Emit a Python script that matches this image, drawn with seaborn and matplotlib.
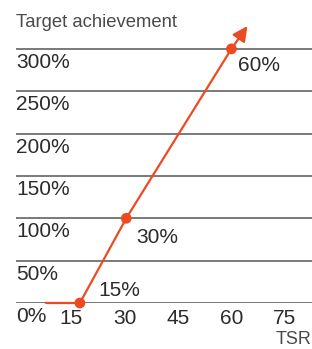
import matplotlib
matplotlib.use('Agg')
import matplotlib.pyplot as plt
import seaborn as sns
import pandas as pd

# Data
line_x = [8, 17.5, 30.5, 60]
line_y = [0, 0, 100, 300]
point_x = [17.5, 30.5, 60]
point_y = [0, 100, 300]
point_labels = ['15%', '30%', '60%']
arrow_tip = (64.5, 327)
y_ticks = [0, 50, 100, 150, 200, 250, 300]
y_tick_labels = ['0%', '50%', '100%', '150%', '200%', '250%', '300%']
x_ticks = [15, 30, 45, 60, 75]
x_tick_labels = ['15', '30', '45', '60', '75']

sns.set_style('white')
plt.rcParams['font.family'] = ['Liberation Sans', 'DejaVu Sans']

orange = '#EE4A22'
text_col = '#2b2b2b'
grey = '#555555'

fig = plt.figure(figsize=(3.12, 3.49), dpi=100)
ax = fig.add_axes([16 / 312, 1 - 303 / 349, 1 - 16 / 312, (303 - 15) / 349])

line_df = pd.DataFrame({'x': line_x, 'y': line_y})
pts_df = pd.DataFrame({'x': point_x, 'y': point_y})

# gridlines
for v in y_ticks:
    ax.axhline(v, color=grey, lw=1.1, zorder=1)

sns.lineplot(data=line_df, x='x', y='y', color=orange, lw=1.6, ax=ax,
             sort=False, zorder=3, clip_on=False)
sns.scatterplot(data=pts_df, x='x', y='y', color=orange, s=60, ax=ax,
                zorder=4, edgecolor='none', clip_on=False)
ax.annotate('', xy=arrow_tip, xytext=(point_x[-1], point_y[-1]),
            arrowprops=dict(arrowstyle='-|>,head_length=0.9,head_width=0.45',
                            color=orange, lw=1.6, shrinkA=0, shrinkB=0),
            zorder=3, annotation_clip=False)

# point labels
offsets = [(13, 2, 'bottom'), (7, -7, 'top'), (5, -5, 'top')]
for x, y, lab, (dx, dy, va) in zip(point_x, point_y, point_labels, offsets):
    ax.annotate(lab, xy=(x, y), xytext=(dx, dy), textcoords='offset points',
                ha='left', va=va, fontsize=15, color=text_col)

# y tick labels inside the axes, below each gridline
for v, lab in zip(y_ticks, y_tick_labels):
    ax.annotate(lab, xy=(0, v), xycoords=('axes fraction', 'data'),
                xytext=(0, -3), textcoords='offset points',
                ha='left', va='top', fontsize=15, color=text_col)

ax.set_xlim(-0.42, 82.6)
ax.set_ylim(0, 340)
ax.set_yticks([])
ax.set_xticks(x_ticks)
ax.set_xticklabels(x_tick_labels, fontsize=15, color=text_col)
ax.tick_params(axis='x', length=0, pad=4)
ax.set_xlabel('')
ax.set_ylabel('')
for s in ax.spines.values():
    s.set_visible(False)

fig.text(16 / 312, 1 - 14 / 349, 'Target achievement', ha='left', va='top',
         fontsize=13.3, color='#4a4a4a')
fig.text(1.0, 1 - 331 / 349, 'TSR', ha='right', va='top',
         fontsize=13, color='#4a4a4a')

fig.savefig('out.png', dpi=100)
